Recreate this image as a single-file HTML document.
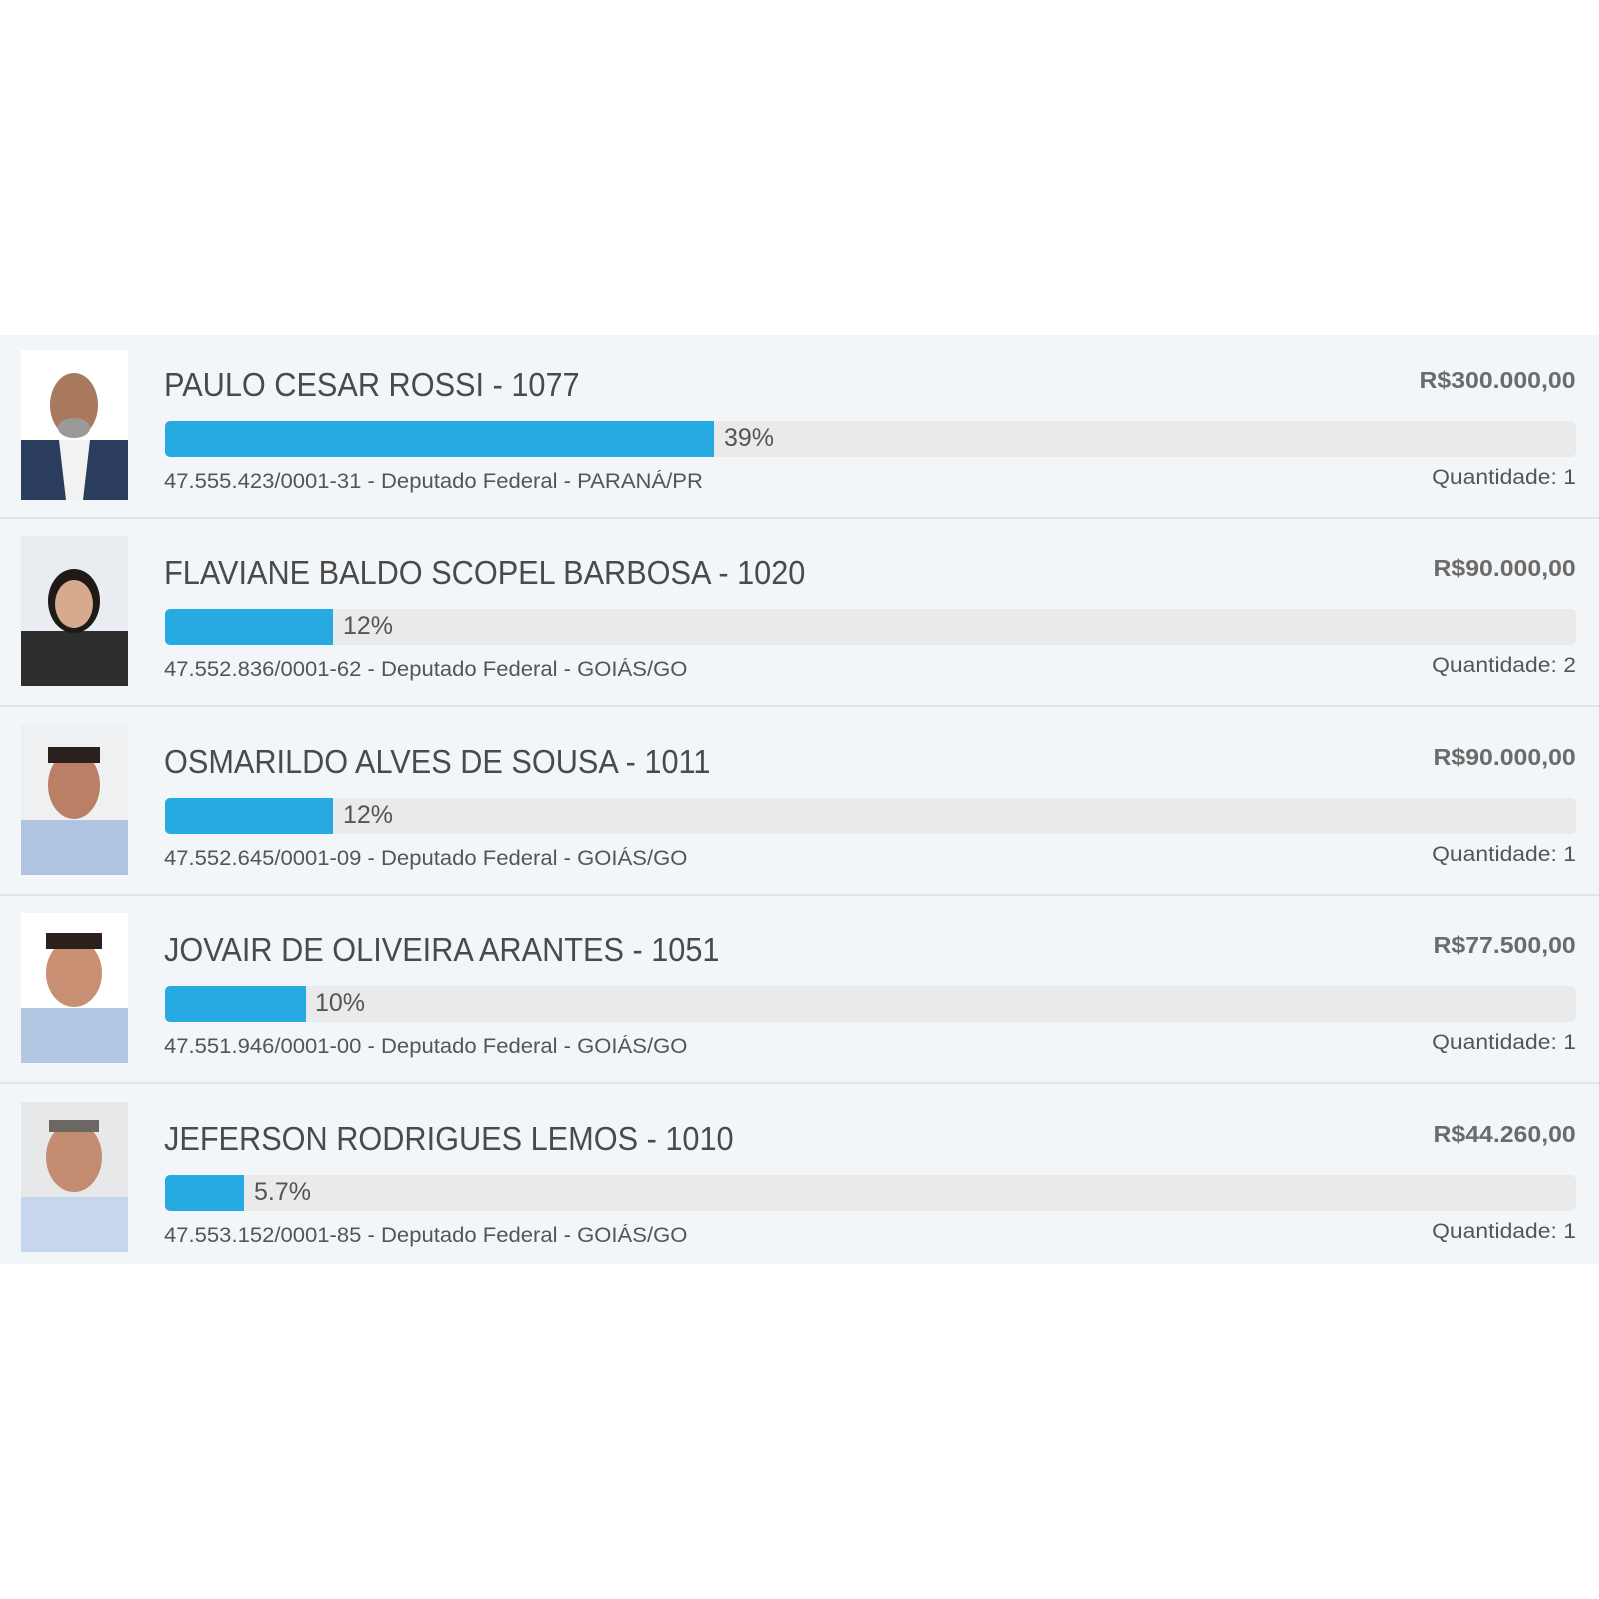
<!DOCTYPE html>
<html><head><meta charset="utf-8"><style>
body{margin:0;width:1599px;height:1599px;background:#fff;position:relative;font-family:"Liberation Sans",sans-serif;overflow:hidden}
.panel{position:absolute;left:0;top:335px;width:1599px;height:929px;background:#f3f6f9}
.row{position:absolute;left:0;width:1599px;height:188px}
.sep{position:absolute;left:0;right:0;bottom:4px;height:2px;background:#e1e4e8}
.ph{position:absolute;left:21px;top:13px;width:107px;height:150px;background:#eef0f2;overflow:hidden}
.name{position:absolute;left:164px;top:31px;font-size:33px;color:#4a4a4a;white-space:nowrap;transform:scaleX(.93);transform-origin:left}
.amt{position:absolute;right:23px;top:32px;font-size:23px;font-weight:bold;color:#6b6b6b;transform:scaleX(1.08);transform-origin:right}
.bar{position:absolute;left:165px;top:86px;width:1411px;height:36px;background:#eaeaea;border-radius:5px;overflow:hidden}
.fill{position:absolute;left:0;top:0;bottom:0;background:#27aae1}
.pct{position:absolute;top:3px;font-size:25px;color:#555}
.sub{position:absolute;left:164px;top:135px;font-size:21px;color:#555;white-space:nowrap;transform:scaleX(1.05);transform-origin:left}
.qty{position:absolute;right:23px;top:131px;font-size:21px;color:#555;transform:scaleX(1.09);transform-origin:right}
</style></head><body>
<div class="panel">
<div class="row" style="top:0;height:184px"><div class="ph" style="background:#fff;top:15px"><svg width="107" height="150"><rect x="0" y="90" width="107" height="60" fill="#2b3d5e"/><polygon points="38,90 69,90 62,150 45,150" fill="#f2f2f2"/><ellipse cx="53" cy="55" rx="24" ry="32" fill="#a8795c"/><ellipse cx="53" cy="78" rx="16" ry="10" fill="#9a9a9a"/></svg></div>
<div class="name">PAULO CESAR ROSSI - 1077</div><div class="amt">R$300.000,00</div>
<div class="bar"><div class="fill" style="width:549px"></div><div class="pct" style="left:559px">39%</div></div>
<div class="sub">47.555.423/0001-31 - Deputado Federal - PARANÁ/PR</div><div class="qty">Quantidade: 1</div><div class="sep" style="bottom:0"></div></div>

<div class="row" style="top:188px"><div class="ph" style="background:#e9edf1"><svg width="107" height="150"><rect x="0" y="95" width="107" height="55" fill="#2e2e2e"/><ellipse cx="53" cy="65" rx="26" ry="32" fill="#1e1a18"/><ellipse cx="53" cy="68" rx="19" ry="24" fill="#d7a98d"/></svg></div>
<div class="name">FLAVIANE BALDO SCOPEL BARBOSA - 1020</div><div class="amt">R$90.000,00</div>
<div class="bar"><div class="fill" style="width:168px"></div><div class="pct" style="left:178px">12%</div></div>
<div class="sub">47.552.836/0001-62 - Deputado Federal - GOIÁS/GO</div><div class="qty">Quantidade: 2</div><div class="sep"></div></div>

<div class="row" style="top:377px"><div class="ph"><svg width="107" height="150"><rect x="0" y="95" width="107" height="55" fill="#aec4e0"/><ellipse cx="53" cy="60" rx="26" ry="34" fill="#b98065"/><rect x="27" y="22" width="52" height="16" fill="#2a211d"/></svg></div>
<div class="name">OSMARILDO ALVES DE SOUSA - 1011</div><div class="amt">R$90.000,00</div>
<div class="bar"><div class="fill" style="width:168px"></div><div class="pct" style="left:178px">12%</div></div>
<div class="sub">47.552.645/0001-09 - Deputado Federal - GOIÁS/GO</div><div class="qty">Quantidade: 1</div><div class="sep"></div></div>

<div class="row" style="top:565px"><div class="ph" style="background:#fff"><svg width="107" height="150"><rect x="0" y="95" width="107" height="55" fill="#b2c8e2"/><ellipse cx="53" cy="60" rx="28" ry="34" fill="#c98f73"/><rect x="25" y="20" width="56" height="16" fill="#2a211d"/></svg></div>
<div class="name">JOVAIR DE OLIVEIRA ARANTES - 1051</div><div class="amt">R$77.500,00</div>
<div class="bar"><div class="fill" style="width:141px"></div><div class="pct" style="left:150px">10%</div></div>
<div class="sub">47.551.946/0001-00 - Deputado Federal - GOIÁS/GO</div><div class="qty">Quantidade: 1</div><div class="sep"></div></div>

<div class="row" style="top:754px"><div class="ph" style="background:#e6e8ea"><svg width="107" height="150"><rect x="0" y="95" width="107" height="55" fill="#c6d6ec"/><ellipse cx="53" cy="55" rx="28" ry="35" fill="#c48c70"/><rect x="28" y="18" width="50" height="12" fill="#6d6763"/></svg></div>
<div class="name">JEFERSON RODRIGUES LEMOS - 1010</div><div class="amt">R$44.260,00</div>
<div class="bar"><div class="fill" style="width:79px"></div><div class="pct" style="left:89px">5.7%</div></div>
<div class="sub">47.553.152/0001-85 - Deputado Federal - GOIÁS/GO</div><div class="qty">Quantidade: 1</div></div>
</div>
</body></html>
